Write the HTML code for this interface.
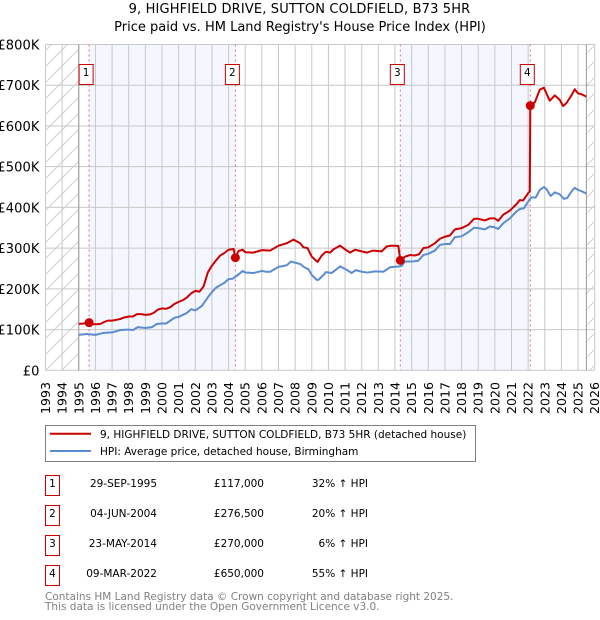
<!DOCTYPE html>
<html><head><meta charset="utf-8"><title>House price chart</title>
<style>
html,body{margin:0;padding:0;background:#fff;width:600px;height:620px;overflow:hidden}
svg{display:block;font-family:"DejaVu Sans","Liberation Sans",sans-serif}
</style></head>
<body>
<svg id="chart" width="600" height="620" viewBox="0 0 600 620" xmlns="http://www.w3.org/2000/svg">
<defs><pattern id="hatch" patternUnits="userSpaceOnUse" width="16" height="16"><path d="M-2 18L18 -2M-2 2L2 -2M14 18L18 14" stroke="#d0d0d0" stroke-width="1" fill="none"/></pattern></defs>
<text x="299.5" y="13" text-anchor="middle" font-size="13" letter-spacing="0.15" fill="#000">9, HIGHFIELD DRIVE, SUTTON COLDFIELD, B73 5HR</text>
<text x="300" y="31" text-anchor="middle" font-size="13" fill="#000">Price paid vs. HM Land Registry's House Price Index (HPI)</text>
<g id="plot"></g>
<g>
<rect x="45.5" y="425.5" width="430" height="36" fill="#fff" stroke="#808080" stroke-width="1"/>
<line x1="50" x2="91" y1="433.7" y2="433.7" stroke="#cc0000" stroke-width="2"/>
<text x="100" y="438" font-size="10.5" fill="#000">9, HIGHFIELD DRIVE, SUTTON COLDFIELD, B73 5HR (detached house)</text>
<line x1="50" x2="91" y1="451" y2="451" stroke="#5b8cd0" stroke-width="2"/>
<text x="100" y="455" font-size="10.5" fill="#000">HPI: Average price, detached house, Birmingham</text>
</g>
<g font-size="10.5" fill="#000">
<g><rect x="45.5" y="475.5" width="14" height="20" fill="#fff" stroke="#cc0000"/><text x="52.5" y="487" text-anchor="middle">1</text><text x="157" y="487" text-anchor="end">29-SEP-1995</text><text x="264" y="487" text-anchor="end">£117,000</text><text x="368" y="487" text-anchor="end">32% ↑ HPI</text></g>
<g><rect x="45.5" y="505.5" width="14" height="20" fill="#fff" stroke="#cc0000"/><text x="52.5" y="517" text-anchor="middle">2</text><text x="157" y="517" text-anchor="end">04-JUN-2004</text><text x="264" y="517" text-anchor="end">£276,500</text><text x="368" y="517" text-anchor="end">20% ↑ HPI</text></g>
<g><rect x="45.5" y="535.5" width="14" height="20" fill="#fff" stroke="#cc0000"/><text x="52.5" y="547" text-anchor="middle">3</text><text x="157" y="547" text-anchor="end">23-MAY-2014</text><text x="264" y="547" text-anchor="end">£270,000</text><text x="368" y="547" text-anchor="end">6% ↑ HPI</text></g>
<g><rect x="45.5" y="565.5" width="14" height="20" fill="#fff" stroke="#cc0000"/><text x="52.5" y="577" text-anchor="middle">4</text><text x="157" y="577" text-anchor="end">09-MAR-2022</text><text x="264" y="577" text-anchor="end">£650,000</text><text x="368" y="577" text-anchor="end">55% ↑ HPI</text></g>
</g>
<text x="45" y="600" font-size="10.5" fill="#808080">Contains HM Land Registry data © Crown copyright and database right 2025.</text>
<text x="45" y="610" font-size="10.5" fill="#808080">This data is licensed under the Open Government Licence v3.0.</text>
</svg>
<script>
var yearTicks = [1993,1994,1995,1996,1997,1998,1999,2000,2001,2002,2003,2004,2005,2006,2007,2008,2009,2010,2011,2012,2013,2014,2015,2016,2017,2018,2019,2020,2021,2022,2023,2024,2025,2026];
var valueTicks = [0,100,200,300,400,500,600,700,800];
var valueTickLabels = ["£0","£100K","£200K","£300K","£400K","£500K","£600K","£700K","£800K"];
var priceYears = [1995,1995.3,1995.62,1995.85,1996.1,1996.3,1996.5,1996.75,1997,1997.25,1997.5,1997.75,1998,1998.25,1998.5,1998.75,1999,1999.25,1999.5,1999.75,2000,2000.25,2000.5,2000.75,2001,2001.25,2001.5,2001.75,2002,2002.25,2002.5,2002.75,2003,2003.25,2003.5,2003.75,2004,2004.3,2004.41,2004.6,2004.85,2005,2005.5,2006,2006.5,2007,2007.5,2007.9,2008.3,2008.5,2008.75,2009,2009.35,2009.6,2009.85,2010.1,2010.3,2010.7,2011,2011.3,2011.6,2012,2012.3,2012.7,2013.2,2013.5,2013.75,2014.2,2014.32,2014.6,2014.9,2015.2,2015.45,2015.7,2016,2016.4,2016.7,2017,2017.3,2017.6,2018,2018.4,2018.75,2019,2019.4,2019.7,2020,2020.2,2020.5,2020.9,2021.3,2021.5,2021.7,2022,2022.1,2022.13,2022.4,2022.7,2022.95,2023.1,2023.3,2023.6,2023.9,2024.1,2024.3,2024.6,2024.8,2025,2025.2,2025.5];
var priceValues = [114,115,117,113,113,114,118,122,122,124,126,130,132,132,138,138,136,137,141,149,152,151,155,163,168,172,179,189,195,193,206,240,257,270,282,288,296,298,276.5,293,296,290,289,295,294,306,312,321,312,302,300,279,266,282,291,289,297,306,297,289,296,292,289,294,292,304,306,305.5,270,279,283,282,285,300,302,312,323,328,331,346,349,357,372,372,368,373,373,367,382,392,408,418,417,435,439,650,658,689,694,680,662,675,664,649,656,675,690,680,678,672];
var hpiYears = [1995,1995.5,1996,1996.5,1997,1997.5,1998,1998.25,1998.55,1999,1999.4,1999.7,2000,2000.25,2000.5,2000.75,2001,2001.5,2001.75,2002,2002.4,2002.75,2003,2003.25,2003.5,2003.75,2004,2004.25,2004.5,2004.85,2005,2005.5,2006,2006.25,2006.5,2007,2007.5,2007.75,2008.3,2008.55,2008.8,2009,2009.3,2009.4,2009.7,2009.85,2010.2,2010.7,2011,2011.4,2011.65,2012,2012.35,2012.8,2013.3,2013.7,2014.2,2014.4,2014.6,2015,2015.4,2015.7,2016,2016.4,2016.7,2017,2017.3,2017.6,2018,2018.4,2018.75,2019,2019.4,2019.7,2020,2020.2,2020.5,2020.9,2021.3,2021.5,2021.75,2022,2022.2,2022.45,2022.7,2022.95,2023.1,2023.35,2023.6,2023.9,2024.15,2024.35,2024.6,2024.8,2025,2025.2,2025.5];
var hpiValues = [87,89,87,92,93,99,100,99,106,104,106,114,115,115,122,129,131,141,150,147,158,179,192,203,209,215,224,225,232,244,240,239,244,242,242,254,258,267,261,253,248,234,222,222,234,241,239,255,249,239,246,242,240,243,242,253,255,256,267,267,269,283,286,294,308,310,310,327,329,339,350,349,346,353,351,347,361,373,390,396,398,414,425,424,443,450,445,428,437,432,421,423,439,448,443,440,434];
var saleNumbers = ["1","2","3","4"];
var saleYears = [1995.62,2004.41,2014.32,2022.13];
var salePrices = [117,276.5,270,650];
var dataStartYear = 1995;
var dataEndYear = 2025.5;

var NS = 'http://www.w3.org/2000/svg';
var plot = document.getElementById('plot');
var L = 45.5, R = 594.7, T = 44.5, B = 370.3;
function xAxis(y){ return L + (y - 1993) * (R - L) / 33; }
function yAxis(v){ return B - v * (B - T) / 800; }
function add(tag, attrs){
  var el = document.createElementNS(NS, tag);
  for (var k in attrs) el.setAttribute(k, attrs[k]);
  plot.appendChild(el);
  return el;
}
function pathFrom(xs, vs){
  var d = '';
  for (var i = 0; i < xs.length; i++) d += (i ? 'L' : 'M') + xAxis(xs[i]).toFixed(2) + ' ' + yAxis(vs[i]).toFixed(2);
  return d;
}
var el;
el = add('rect', {x:xAxis(saleYears[0]), y:T, width:xAxis(saleYears[1])-xAxis(saleYears[0]), height:B-T, fill:'#f4f7ff'});


el = add('rect', {x:xAxis(saleYears[2]), y:T, width:xAxis(saleYears[3])-xAxis(saleYears[2]), height:B-T, fill:'#f4f7ff'});



yearTicks.forEach(function(y){
  var g = add('line', {x1:xAxis(y), x2:xAxis(y), y1:T, y2:B, stroke:'#c8c8c8', 'stroke-width':1});
  
  
  var px = xAxis(y);
  var t = add('text', {x:0, y:0, transform:'translate(' + (px + 4.5) + ',414) rotate(-90)', 'font-size':12.6, fill:'#000'});
  t.textContent = y;
  
  
});
valueTicks.forEach(function(v, i){
  var g = add('line', {x1:L, x2:R, y1:yAxis(v), y2:yAxis(v), stroke:'#c8c8c8', 'stroke-width':1});
  
  
  var t = add('text', {x:39.5, y:yAxis(v) + 5, 'text-anchor':'end', 'font-size':13, 'letter-spacing':0.1, fill:'#000'});
  t.textContent = valueTickLabels[i];
  
  
});

el = add('rect', {x:L, y:T, width:xAxis(dataStartYear)-L, height:B-T, fill:'url(#hatch)'});


el = add('rect', {x:xAxis(dataEndYear), y:T, width:R-xAxis(dataEndYear), height:B-T, fill:'url(#hatch)'});


el = add('line', {x1:xAxis(dataStartYear), x2:xAxis(dataStartYear), y1:T, y2:B, stroke:'#999', 'stroke-width':1});


el = add('line', {x1:xAxis(dataEndYear), x2:xAxis(dataEndYear), y1:T, y2:B, stroke:'#999', 'stroke-width':1});



saleYears.forEach(function(y){
  var d = add('line', {x1:xAxis(y), x2:xAxis(y), y1:T, y2:B, stroke:'#f06a78', 'stroke-width':1, 'stroke-dasharray':'2 3'});
  
  
});

el = add('path', {d:pathFrom(hpiYears, hpiValues), fill:'none', stroke:'#5b8cd0', 'stroke-width':2, 'stroke-linejoin':'round'});


el = add('path', {d:pathFrom(priceYears, priceValues), fill:'none', stroke:'#cc0000', 'stroke-width':2, 'stroke-linejoin':'round'});



saleYears.forEach(function(y, i){
  var c = add('circle', {cx:xAxis(y), cy:yAxis(salePrices[i]), r:4.5, fill:'#cc0000'});
  
  
  var b = add('rect', {x:xAxis(y)-10, y:64.5, width:14, height:20, fill:'#fff', stroke:'#cc0000', 'stroke-width':1});
  
  
  var t = add('text', {x:xAxis(y)-3, y:76, 'text-anchor':'middle', 'font-size':10.5, fill:'#000'});
  t.textContent = saleNumbers[i];
  
  
});
</script>
</body></html>
